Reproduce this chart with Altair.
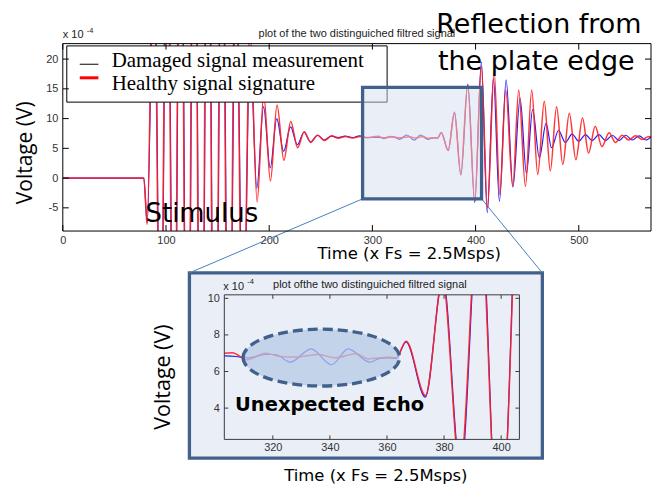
import altair as alt
import pandas as pd

# ---------------- data ----------------
red_t = [0, 78.5, 81.7, 88.2, 94.6, 101.0, 107.5, 114.0, 120.6, 127.2, 133.8, 140.4, 147.2, 154.0,
         160.8, 167.5, 174.4, 181.3, 188.3, 194.7, 201.2, 207.6, 214.2, 220.9, 227.5, 233.9, 240.2,
         247.0, 253.6, 260.5, 267.0, 274.0, 281.0, 288.0, 295.0, 303.0, 305.8, 311.0, 317.4, 322.6,
         328.0, 336.0, 341.8, 349.3, 353.4, 360.3, 363.2, 366.7, 373.5, 379.5, 385.6, 392.3, 399.2,
         405.6, 411.5, 418.0, 423.5, 429.2, 436.0, 441.8, 448.3, 454.4, 460.2, 466.6, 472.4, 478.5,
         484.5, 490.8, 497.2, 503.6, 509.5, 515.9, 522.4, 529.4, 535.5, 542.0, 548.5, 555.0, 561.5,
         568.0, 570.0]
red_v = [0, 0, -7.8, 45, -40, 60, -55, 70, -65, 75, -70, 70, -65, 60,
         -52, 45, -35, 25, -4.0, 14.0, -0.5, 12.3, 3.0, 9.5, 5.1, 7.8, 6.0,
         7.2, 6.3, 7.1, 6.7, 7.0, 6.75, 7.0, 6.8, 7.0, 7.02, 6.64, 7.0, 6.82,
         6.79, 6.93, 6.75, 6.97, 6.69, 6.78, 6.75, 7.65, 4.69, 11.0, 0.6, 15.6, -3.9,
         18.8, -5.0, 17.9, -2.8, 14.8, -1.4, 14.8, -1.4, 14.8, 0.6, 12.9, 1.2, 12.0,
         2.3, 10.9, 3.1, 10.1, 4.2, 8.7, 5.3, 7.6, 6.0, 7.2, 6.4, 7.1, 6.5,
         7.0, 6.9]

blue_t = [0, 78.5, 81.8, 88.5, 94.9, 101.3, 107.8, 114.3, 120.9, 127.5, 134.1, 140.7, 147.5, 154.3,
          161.1, 167.8, 174.7, 181.5, 188.0, 194.5, 201.0, 207.3, 214.0, 220.7, 227.3, 233.7, 240.0,
          246.8, 253.4, 260.2, 266.8, 273.5, 280.5, 287.5, 294.5, 303.0, 306.9, 311.6, 317.4, 320.9,
          326.1, 333.4, 340.6, 346.4, 354.0, 357.5, 360.4, 363.2, 366.7, 373.4, 379.6, 385.8, 392.5,
          399.2, 405.6, 411.3, 417.3, 423.1, 429.6, 436.2, 443.1, 449.3, 455.3, 461.8, 468.3, 473.6,
          480.4, 487.0, 493.5, 500.0, 506.5, 513.0, 519.5, 526.0, 532.5, 539.0, 545.5, 552.0, 558.5,
          565.0, 570.0]
blue_v = [0, 0, -7.5, 42, -38, 58, -52, 68, -62, 72, -68, 68, -62, 58,
          -48, 40, -30, 22, -1.7, 12.0, 1.7, 10.0, 4.5, 8.6, 5.6, 7.7, 6.1,
          7.2, 6.4, 7.05, 6.8, 7.05, 6.8, 7.1, 6.8, 6.85, 6.82, 6.75, 6.93, 6.93,
          6.51, 7.24, 6.37, 7.24, 6.51, 6.72, 6.75, 6.72, 7.62, 4.6, 11.1, 0.5, 15.8,
          -4.1, 19.5, -5.8, 16.7, -3.9, 16.5, -1.5, 13.4, 0.8, 11.5, 3.4, 9.2, 5.1,
          8.0, 6.0, 7.4, 6.2, 7.3, 6.3, 7.3, 6.3, 7.2, 6.3, 7.2, 6.4, 7.1,
          6.4, 6.9]

main_x_ticks = [0, 100, 200, 300, 400, 500]
main_y_ticks = [-5, 0, 5, 10, 15, 20]
inset_x_ticks = [320, 340, 360, 380, 400]
inset_y_ticks = [4, 6, 8, 10]

main_x_domain = [0, 570]
main_y_domain = [-8.9, 22.6]
inset_x_domain = [303, 406.4]
inset_y_domain = [2.29, 10.19]
zoom_box_x = [290.5, 405.8]
zoom_box_y = [-3.49, 15.23]
echo_center = [337, 6.76]
echo_text_pos = [339.9, 4.19]

legend_labels = ["Damaged signal measurement", "Healthy signal signature"]
main_title = "plot of the two distinguiched filtred signal"
inset_title = "plot ofthe two distinguiched filtred signal"
x_title = "Time (x Fs = 2.5Msps)"
y_title = "Voltage (V)"
stimulus_label = "Stimulus"
reflection_label = ["Reflection from", "the plate edge"]
echo_label = "Unexpected Echo"
exp_base = "x 10"
exp_power = "-4"

# ---------------- styling ----------------
RED = "#ff2020"
BLUE = "#1f1fff"
FRAME = "#41618c"
PALE = "#eaeff7"
LINK = "#4a7ebb"
W = 590
H_MAIN = 188
H_INSET = 145
INSET_RANGE = [162, 458]
ELLIPSE_PATH = "M -1 0 A 1 0.363 0 1 1 1 0 A 1 0.363 0 1 1 -1 0 Z"

red_df = pd.DataFrame({"t": red_t, "v": red_v})
blue_df = pd.DataFrame({"t": blue_t, "v": blue_v})
ONE = pd.DataFrame({"k": [0]})

sx = alt.Scale(domain=main_x_domain, nice=False, zero=False)
sy = alt.Scale(domain=main_y_domain, nice=False, zero=False)
isx = alt.Scale(domain=inset_x_domain, range=INSET_RANGE, nice=False, zero=False)
isy = alt.Scale(domain=inset_y_domain, nice=False, zero=False)

lab = dict(labelFont="Liberation Sans", labelFontSize=11, labelColor="#333333",
           labelFlush=False, labelOverlap=False, labelExpr="'' + datum.value",
           ticks=False, tickSize=0, tickCount=20, domain=False, grid=False,
           titleFontWeight="normal", titleColor="black",
           titleAlign="center", titleBaseline="middle")

ax_mx = alt.Axis(values=main_x_ticks, title=x_title, titleX=347, titleY=23,
                 titleFont="DejaVu Sans", titleFontSize=16.5, labelPadding=3, **lab)
ax_my = alt.Axis(values=main_y_ticks, title=y_title, titleX=-37.6, titleY=109, titleAngle=270,
                 titleFont="Open Sans", titleFontSize=21, labelPadding=5, **lab)
ax_ix = alt.Axis(values=inset_x_ticks, title=x_title, titleX=313.5, titleY=36,
                 titleFont="DejaVu Sans", titleFontSize=16.5, labelPadding=2, **lab)
ax_iy = alt.Axis(values=inset_y_ticks, title=y_title, offset=-162, titleX=-61, titleY=82,
                 titleAngle=270, titleFont="Open Sans", titleFontSize=21.5, labelPadding=5, **lab)


def ptext(text, x, y, size, font, weight="normal", align="left", baseline="alphabetic", color="black"):
    return alt.Chart(ONE).mark_text(text=text, fontSize=size, font=font, fontWeight=weight,
                                    align=align, baseline=baseline, color=color).encode(
        x=alt.value(x), y=alt.value(y))


def prule(x1, y1, x2, y2, color, width):
    return alt.Chart(ONE).mark_rule(color=color, strokeWidth=width).encode(
        x=alt.value(x1), y=alt.value(y1), x2=alt.value(x2), y2=alt.value(y2))


def prect(x1, y1, x2, y2, **kw):
    return alt.Chart(ONE).mark_rect(**kw).encode(
        x=alt.value(x1), x2=alt.value(x2), y=alt.value(y1), y2=alt.value(y2))


def drect(xs, ys, scx, scy, **kw):
    return alt.Chart(ONE).mark_rect(**kw).encode(
        x=alt.X(datum=xs[0], scale=scx), x2=alt.X2(datum=xs[1]),
        y=alt.Y(datum=ys[0], scale=scy), y2=alt.Y2(datum=ys[1]))


def edge_ticks(xvals, yvals, scx, scy, xdom, ydom, L, color):
    layers = []
    ydf = pd.DataFrame({"val": yvals})
    xdf = pd.DataFrame({"val": xvals})
    for xe, off in ((xdom[0], L), (xdom[1], -L)):
        layers.append(alt.Chart(ydf).mark_rule(color=color, strokeWidth=1, x2Offset=off).encode(
            x=alt.X(datum=xe, scale=scx), x2=alt.X2(datum=xe),
            y=alt.Y("val:Q", scale=scy)))
    for ye, off in ((ydom[0], -L), (ydom[1], L)):
        layers.append(alt.Chart(xdf).mark_rule(color=color, strokeWidth=1, y2Offset=off).encode(
            x=alt.X("val:Q", scale=scx),
            y=alt.Y(datum=ye, scale=scy), y2=alt.Y2(datum=ye)))
    return layers


# ---------------- main panel ----------------
anchor = prect(-62, -42, 593, 443, opacity=0)
inset_box = prect(127, 230, 481, 415.7, fill=PALE, stroke=FRAME, strokeWidth=3.3)
conn_l = alt.Chart(ONE).mark_rule(color=LINK, strokeWidth=1).encode(
    x=alt.X(datum=zoom_box_x[0], scale=sx), y=alt.Y(datum=zoom_box_y[0], scale=sy),
    x2=alt.value(127), y2=alt.value(230))
conn_r = alt.Chart(ONE).mark_rule(color=LINK, strokeWidth=1).encode(
    x=alt.X(datum=zoom_box_x[1], scale=sx), y=alt.Y(datum=zoom_box_y[0], scale=sy),
    x2=alt.value(481), y2=alt.value(230))

main_blue = alt.Chart(blue_df).mark_line(color=BLUE, strokeWidth=1.2, clip=True, interpolate="monotone").encode(
    x=alt.X("t:Q", scale=sx, axis=ax_mx), y=alt.Y("v:Q", scale=sy, axis=ax_my))
main_red = alt.Chart(red_df).mark_line(color=RED, strokeWidth=1.5, opacity=0.9, clip=True,
                                       interpolate="monotone").encode(
    x=alt.X("t:Q", scale=sx), y=alt.Y("v:Q", scale=sy))

legend_box = prect(4, 2.3, 325.3, 58.7, fill="white", stroke="black", strokeWidth=1)
legend_l1 = prule(17, 20.7, 35.7, 20.7, "black", 1)
legend_l2 = prule(17, 34.3, 35.7, 34.3, "#ff0000", 3)
legend_t1 = ptext(legend_labels[0], 49, 23.7, 21, "Liberation Serif")
legend_t2 = ptext(legend_labels[1], 49, 46.3, 21, "Liberation Serif")

zoom_box = drect(zoom_box_x, zoom_box_y, sx, sy, fill="#d5dfef", fillOpacity=0.5,
                 stroke=FRAME, strokeWidth=3.3)
main_frame = drect(main_x_domain, main_y_domain, sx, sy, fill="white", fillOpacity=0,
                   stroke="black", strokeWidth=1)
main_ticks = edge_ticks(main_x_ticks, main_y_ticks, sx, sy, main_x_domain, main_y_domain, 6, "black")

t_title = ptext(main_title, 295, -9.7, 11, "Liberation Sans", align="center", baseline="middle", color="#222222")
t_exp = ptext(exp_base, 0, -8.7, 11, "Liberation Sans", baseline="middle", color="#222222")
t_pow = ptext(exp_power, 24, -12.5, 7.5, "Liberation Sans", baseline="middle", color="#222222")
t_stim = ptext(stimulus_label, 83, 178.7, 26, "DejaVu Sans")
t_ref1 = ptext(reflection_label[0], 374.7, -10.3, 27, "DejaVu Sans")
t_ref2 = ptext(reflection_label[1], 376.3, 26.3, 27, "DejaVu Sans")

main = alt.layer(
    main_blue, anchor, inset_box, conn_l, conn_r, main_red,
    legend_box, legend_l1, legend_l2, legend_t1, legend_t2,
    zoom_box, main_frame, *main_ticks,
    t_title, t_exp, t_pow, t_stim, t_ref1, t_ref2,
).properties(width=W, height=H_MAIN)

# ---------------- inset panel ----------------
inset_filter = (alt.datum.t >= inset_x_domain[0]) & (alt.datum.t <= inset_x_domain[1])
ins_blue = alt.Chart(blue_df).transform_filter(inset_filter).mark_line(
    color=BLUE, strokeWidth=1.2, clip=True, interpolate="monotone").encode(
    x=alt.X("t:Q", scale=isx, axis=ax_ix), y=alt.Y("v:Q", scale=isy, axis=ax_iy))
ins_red = alt.Chart(red_df).transform_filter(inset_filter).mark_line(
    color=RED, strokeWidth=1.5, opacity=0.9, clip=True, interpolate="monotone").encode(
    x=alt.X("t:Q", scale=isx), y=alt.Y("v:Q", scale=isy))

ellipse = alt.Chart(ONE).mark_point(
    shape=ELLIPSE_PATH, size=24649, filled=True, fill="#b4c9e6", fillOpacity=0.75, opacity=1,
    stroke=FRAME, strokeWidth=3.3, strokeOpacity=1, strokeDash=[10, 5]).encode(
    x=alt.X(datum=echo_center[0], scale=isx), y=alt.Y(datum=echo_center[1], scale=isy))

inset_frame = drect(inset_x_domain, inset_y_domain, isx, isy, fill="white", fillOpacity=0,
                    stroke="#3a3a3a", strokeWidth=1)
inset_ticks = edge_ticks(inset_x_ticks, inset_y_ticks, isx, isy, inset_x_domain, inset_y_domain, 4, "#3a3a3a")

echo = alt.Chart(ONE).mark_text(text=echo_label, font="DejaVu Sans", fontWeight="bold", fontSize=19.5,
                                align="center", baseline="middle", color="black").encode(
    x=alt.X(datum=echo_text_pos[0], scale=isx), y=alt.Y(datum=echo_text_pos[1], scale=isy))

i_title = ptext(inset_title, 308, -9.7, 11, "Liberation Sans", align="center", baseline="middle", color="#222222")
i_exp = ptext(exp_base, 161, -8, 11, "Liberation Sans", baseline="middle", color="#222222")
i_pow = ptext(exp_power, 185, -12.5, 7.5, "Liberation Sans", baseline="middle", color="#222222")

inset = alt.layer(
    ins_blue, ins_red, ellipse, inset_frame, *inset_ticks, echo, i_title, i_exp, i_pow,
).properties(width=W, height=H_INSET)

chart = alt.vconcat(main, inset, spacing=64, bounds="flush", padding=0, background="white").configure_view(
    stroke="transparent")

chart.save("out.html", embed_options={"renderer": "svg", "actions": False})
